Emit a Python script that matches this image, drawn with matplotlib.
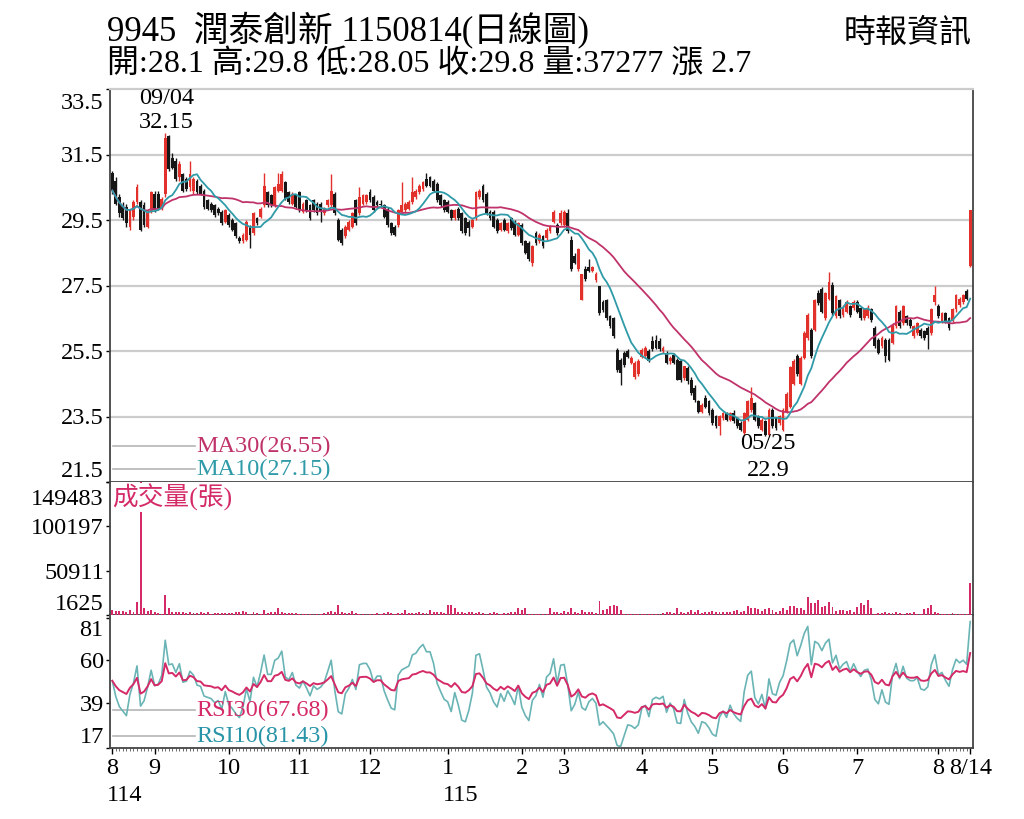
import numpy as np
import pandas as pd
import matplotlib
matplotlib.use('Agg')
import matplotlib.pyplot as plt
from matplotlib.transforms import blended_transform_factory as btf

plt.rcParams['font.family'] = ['Liberation Serif', 'Noto Sans CJK TC', 'DejaVu Sans']

# ---------------- data ----------------
title = '9945  潤泰創新 1150814(日線圖)'
source = '時報資訊'
month_labels = ['8', '9', '10', '11', '12', '1', '2', '3', '4', '5', '6', '7', '8']
year_labels = {0: '114', 5: '115'}
last_label = '8/14'
hi_label = ('09/04', 32.15)
lo_label = ('05/25', 22.9)
ma30_last = 26.55
ma10_last = 27.15
rsi30_last = 67.68
rsi10_last = 81.43

# (open, high, low, close) per trading day, month by month
aug25 = [(30.94,31.00,30.30,30.40),(30.70,30.80,29.95,30.00),(30.20,30.30,29.60,29.70),(29.95,30.05,29.50,29.55),
         (29.90,30.00,29.30,29.40),(29.30,29.85,29.20,29.80),(29.60,30.10,29.50,30.05),(30.05,30.60,30.00,30.50),
         (30.05,30.10,29.15,29.20),(29.95,30.05,29.30,29.35),(29.30,29.80,29.25,29.75),(29.75,30.40,29.70,30.35)]
sep25 = [(30.30,30.40,29.75,29.80),(30.30,30.40,29.80,29.85),(29.85,30.20,29.80,30.15),(30.28,32.15,30.20,32.00),
         (32.05,32.10,31.00,31.05),(31.40,31.55,31.05,31.10),(31.30,31.40,30.70,30.75),(30.80,31.30,30.70,31.20),
         (30.90,30.95,30.35,30.40),(30.75,30.80,30.40,30.45),(30.50,31.30,30.40,30.90),(30.40,30.80,30.30,30.75),
         (30.70,30.75,30.30,30.35),(30.55,30.60,30.25,30.30),(30.40,30.45,29.85,29.90),(30.10,30.15,29.80,29.85),
         (30.00,30.05,29.75,29.80),(29.95,30.00,29.60,29.65),(29.85,29.90,29.65,29.70),(29.75,29.80,29.35,29.40),
         (29.45,29.85,29.40,29.80)]
oct25 = [(29.65,29.70,29.30,29.35),(29.50,29.55,29.15,29.20),(29.40,29.45,28.95,29.00),(28.95,29.00,28.80,28.85),
         (28.85,29.10,28.80,29.05),(28.90,29.50,28.85,29.45),(29.30,29.35,28.65,29.05),(29.10,29.75,29.05,29.70),
         (29.55,29.60,29.35,29.40),(29.60,29.90,29.55,29.85),(29.95,30.95,29.90,30.55),(30.35,30.40,29.90,29.95),
         (30.25,30.30,29.90,29.95),(29.95,30.55,29.90,30.50),(30.40,30.95,30.35,30.60),(30.40,31.00,30.35,30.90),
         (30.65,30.70,30.10,30.15),(30.35,30.40,30.00,30.05),(30.00,30.35,29.95,30.30),(30.25,30.30,29.85,29.90)]
nov25 = [(30.35,30.40,29.75,29.80),(29.75,30.05,29.70,30.00),(30.10,30.15,29.75,29.80),(29.95,30.00,29.50,29.55),
         (30.10,30.15,29.75,29.80),(30.00,30.05,29.65,29.70),(30.00,30.05,29.45,29.75),(29.70,29.90,29.65,29.85),
         (29.95,30.15,29.90,30.10),(29.95,30.90,29.90,30.40),(30.30,30.35,29.65,29.70),(29.50,29.55,28.85,28.90),
         (29.20,29.25,28.75,28.80),(29.00,29.35,28.95,29.30),(29.20,29.50,29.15,29.45),(29.30,29.75,29.25,29.70),
         (30.10,30.15,29.35,29.40),(29.70,30.50,29.65,30.20),(30.00,30.30,29.95,30.25),(30.05,30.30,30.00,30.25)]
dec25 = [(30.35,30.45,30.05,30.10),(30.20,30.25,29.75,29.80),(30.05,30.10,29.90,29.95),(30.00,30.10,29.90,29.95),
         (29.95,30.00,29.55,29.60),(29.85,29.90,29.30,29.35),(29.40,29.45,29.05,29.10),(29.30,29.35,29.00,29.05),
         (29.35,29.85,29.30,29.80),(29.75,30.65,29.70,29.95),(29.80,30.05,29.75,30.00),(29.85,30.10,29.80,30.05),
         (30.05,30.80,30.00,30.35),(30.20,30.45,30.15,30.40),(30.35,30.60,30.30,30.55),(30.45,30.70,30.40,30.65),
         (30.75,30.95,30.50,30.55),(30.80,30.85,30.50,30.55),(30.70,30.75,30.35,30.40),(30.60,30.65,30.05,30.10),
         (30.25,30.30,29.90,29.95),(30.10,30.15,29.75,29.80)]
jan26 = [(30.05,30.10,29.70,29.75),(29.80,29.85,29.50,29.55),(29.55,29.85,29.50,29.80),(29.85,29.90,29.50,29.55),
         (29.70,29.75,29.10,29.15),(29.55,29.60,29.05,29.10),(29.45,29.50,29.00,29.25),(29.30,29.55,29.25,29.50),
         (29.55,30.40,29.50,30.35),(30.20,30.45,30.15,30.40),(30.55,30.60,30.05,30.10),(30.30,30.35,29.65,29.70),
         (29.75,29.80,29.50,29.55),(29.75,29.80,29.25,29.30),(29.50,29.55,29.10,29.15),(29.20,29.45,29.15,29.40),
         (29.50,29.55,29.15,29.20),(29.15,29.45,29.10,29.40),(29.55,29.60,29.20,29.25),(29.45,29.50,29.00,29.05),
         (29.05,29.45,29.00,29.40)]
feb26 = [(29.35,29.40,28.75,28.80),(28.85,28.90,28.45,28.50),(28.80,28.85,28.25,28.30),(28.20,28.75,28.10,28.70),
         (29.10,29.15,28.75,28.80),(28.85,29.10,28.80,29.05),(29.00,29.05,28.65,28.70),(28.95,29.25,28.90,29.20),
         (29.15,29.35,29.10,29.30),(29.45,29.80,29.40,29.75),(29.35,29.40,29.05,29.10),(29.40,29.80,29.35,29.72)]
mar26 = [(29.35,29.80,29.30,29.75),(29.72,29.85,29.10,29.15),(28.90,29.00,27.95,28.00),(28.40,28.50,28.15,28.20),
         (28.00,28.65,27.95,28.60),(27.07,27.85,27.05,27.84),(28.00,28.10,27.65,27.70),(28.05,28.30,27.90,27.95),
         (27.95,28.10,27.90,28.05),(27.68,27.90,27.60,27.85),(27.48,27.50,26.60,26.66),(27.00,27.05,26.70,26.75),
         (27.07,27.10,26.45,26.50),(26.56,26.60,26.20,26.25),(26.50,26.55,25.90,25.95),(25.54,25.60,24.85,24.93),
         (25.24,25.30,24.47,24.83),(25.44,25.50,25.00,25.08),(25.49,25.55,25.30,25.33),(25.13,25.35,25.10,25.28),
         (24.72,25.20,24.65,25.13),(24.80,25.25,24.75,25.20)]
apr26 = [(25.33,25.60,25.30,25.54),(25.35,25.65,25.30,25.60),(25.49,25.55,25.15,25.18),(25.80,25.95,25.50,25.55),
         (25.85,26.00,25.55,25.60),(25.80,25.90,25.50,25.55),(25.50,25.65,25.45,25.60),(25.44,25.50,25.10,25.13),
         (25.18,25.35,25.10,25.30),(25.38,25.45,25.10,25.13),(25.23,25.30,24.60,24.62),(25.20,25.25,24.55,24.60),
         (24.67,25.05,24.60,25.03),(24.98,25.05,24.50,24.57),(24.62,24.70,24.15,24.21),(24.37,24.45,23.95,24.00),
         (23.96,24.00,23.60,23.65),(23.65,23.90,23.60,23.86),(24.06,24.15,23.75,23.80),(23.96,24.00,23.55,23.60)]
may26 = [(23.70,23.75,23.25,23.30),(23.50,23.55,23.15,23.20),(23.20,23.55,22.95,23.50),(23.45,23.65,23.40,23.60),
         (23.60,23.65,23.35,23.40),(23.40,23.65,23.35,23.60),(23.60,23.70,23.30,23.35),(23.45,23.50,23.15,23.20),
         (23.30,23.35,23.05,23.10),(23.00,23.65,22.95,23.60),(23.40,24.00,23.35,23.96),(23.70,24.40,23.65,24.06),
         (23.90,23.95,23.35,23.40),(23.50,23.55,23.15,23.20),(23.10,23.45,23.05,23.40),(23.35,23.40,22.90,22.94),
         (22.95,23.75,22.90,23.70),(23.70,23.75,23.15,23.20),(23.45,23.50,23.10,23.15),(23.30,23.55,23.25,23.50)]
jun26 = [(23.10,23.75,23.05,23.70),(23.65,24.25,23.60,24.20),(23.80,25.05,23.75,25.00),(24.50,25.25,24.45,25.20),
         (25.35,25.40,24.75,24.80),(24.50,25.35,24.45,25.30),(25.30,26.10,25.25,26.05),(25.90,26.65,25.85,26.60),
         (26.15,26.20,25.30,25.35),(26.15,27.10,26.10,27.07),(27.28,27.35,26.90,26.97),(27.40,27.45,26.65,26.70),
         (26.50,27.30,26.45,27.28),(27.10,27.90,27.05,27.60),(27.53,27.60,26.60,26.66),(26.56,27.20,26.50,27.17),
         (27.07,27.10,26.50,26.56),(26.60,26.90,26.55,26.85),(26.70,27.05,26.65,27.00),(26.87,26.90,26.55,26.60),
         (26.80,27.05,26.75,27.00)]
jul26 = [(27.00,27.05,26.65,26.70),(26.80,26.85,26.45,26.50),(26.50,26.80,26.45,26.77),(26.56,26.90,26.50,26.82),
         (26.77,26.80,26.40,26.46),(26.20,26.25,25.60,25.65),(25.85,25.90,25.40,25.44),(25.64,25.95,25.60,25.90),
         (25.85,25.90,25.15,25.34),(25.85,25.90,25.20,25.23),(25.75,26.35,25.70,26.30),(26.25,26.90,26.20,26.87),
         (26.70,26.75,26.20,26.25),(26.36,26.90,26.30,26.87),(26.56,26.60,26.30,26.36),(26.45,26.50,26.20,26.25),
         (25.95,26.30,25.90,26.25),(26.05,26.40,26.00,26.36),(26.15,26.20,25.90,25.95),(26.10,26.15,25.85,25.90),
         (26.20,26.25,25.55,26.00),(26.05,26.80,26.00,26.77),(27.00,27.50,26.90,27.20)]
aug26 = [(26.87,26.95,26.50,26.56),(26.40,26.70,26.35,26.66),(26.66,26.70,26.35,26.40),(26.50,26.55,26.15,26.20),
         (26.46,26.80,26.40,26.77),(26.77,27.25,26.70,27.20),(26.90,27.15,26.85,27.10),(27.00,27.25,26.95,27.20),
         (27.33,27.40,27.05,27.10),(28.10,29.80,28.05,29.80)]

# volume (張) per trading day
vol_aug25 = [7200, 6100, 6000, 6000, 5300, 7200, 5300, 15700, 149483, 9000, 6000, 7200]
vol_sep25 = [4600, 3500, 2700, 23800, 9000, 4600, 5300, 4600, 4600, 3800, 4600, 3800, 3800, 4600, 3800, 4600,
             3100, 3800, 3800, 3800, 3800]
vol_oct25 = [3800, 3800, 4600, 4600, 6000, 5300, 3100, 4600, 3800, 3100, 6800, 3800, 4600, 4600, 9000, 4600,
             3800, 3800, 3800, 3800]
vol_nov25 = [3100, 3100, 3100, 2400, 2400, 2400, 2400, 3800, 5300, 6000, 4600, 12700, 5300, 3800, 3800, 6000,
             3800, 3100, 3100, 3100]
vol_dec25 = [3100, 3100, 3800, 3100, 3800, 4600, 3800, 3100, 3800, 3800, 6800, 3800, 3800, 3800, 5300, 3800,
             3800, 6800, 4600, 5300, 4600, 3800]
vol_jan26 = [12700, 12700, 9000, 4600, 4600, 3800, 5300, 4600, 3800, 4600, 3800, 3100, 3800, 4600, 3800, 3100,
             3800, 3800, 4600, 5300, 9000]
vol_feb26 = [7200, 9800, 3100, 3100, 3100, 3100, 3100, 3100, 9000, 4600, 5300, 3800]
vol_mar26 = [6000, 5300, 9000, 4600, 3800, 6800, 5300, 4600, 5300, 3800, 17200, 7200, 8300, 12000, 12700, 12000,
             7200, 2400, 2400, 2400, 2400, 2400]
vol_apr26 = [2400, 2400, 2400, 2400, 2400, 2400, 3800, 4600, 4600, 3800, 9000, 4600, 3800, 5300, 7600, 4600,
             6800, 3800, 4600, 4600]
vol_may26 = [6000, 4600, 5300, 5300, 4600, 5300, 6000, 7600, 5300, 6000, 12000, 9800, 9000, 8300, 6000, 8300,
             9800, 7600, 5300, 6000]
vol_jun26 = [9000, 7600, 12000, 12000, 9800, 9000, 7200, 22000, 14600, 14600, 18300, 10900, 12000, 16400, 10900,
             6000, 6800, 7600, 6000, 6800, 5300]
vol_jul26 = [10900, 14600, 12700, 18300, 9000, 3100, 3800, 3800, 4600, 3800, 3800, 4600, 3800, 3100, 3800, 3800,
             4600, 3100, 3100, 8300, 9000, 12700, 4600]
vol_aug26 = [3800, 3100, 3100, 3100, 3800, 3100, 3100, 2700, 3100, 37277]

months = [aug25, sep25, oct25, nov25, dec25, jan26, feb26, mar26, apr26, may26, jun26, jul26, aug26]
vols = [vol_aug25, vol_sep25, vol_oct25, vol_nov25, vol_dec25, vol_jan26, vol_feb26, vol_mar26, vol_apr26,
        vol_may26, vol_jun26, vol_jul26, vol_aug26]

ohlc = np.array([row for m in months for row in m])
o, h, l, c = ohlc.T
vol = np.array([v for m in vols for v in m], dtype=float)
N = len(c)
x = np.arange(N)
month_start = np.cumsum([0] + [len(m) for m in months[:-1]])

close_s = pd.Series(c)
ma10 = close_s.rolling(10, min_periods=1).mean()
ma30 = close_s.rolling(30, min_periods=1).mean()

RSI_SEED = 0.12  # assumed average daily move before the window (Wilder smoothing start)


def rsi(cl, n):
    d = np.diff(cl)
    up = pd.Series(np.concatenate([[RSI_SEED], np.clip(d, 0, None)])).ewm(alpha=1.0 / n, adjust=False).mean()
    dn = pd.Series(np.concatenate([[RSI_SEED], np.clip(-d, 0, None)])).ewm(alpha=1.0 / n, adjust=False).mean()
    return (100 * up / (up + dn)).values


rsi10 = rsi(c, 10)
rsi30 = rsi(c, 30)

# ---------------- style ----------------
RED = '#e2312b'
BLK = '#161616'
PINK = '#d42a68'
TEAL = '#2894a8'
MA30C = '#c0336a'
MA10C = '#2f9aa8'
RSI10C = '#6ab4b6'
GRID = '#cccccc'
SPINE = '#444444'
FS = 17.5

fig = plt.figure(figsize=(10.24, 8.19), dpi=100)
L = 110 / 1024
W = (973 - 110) / 1024
ax1 = fig.add_axes([L, (819 - 482) / 819, W, (482 - 89) / 819])
ax2 = fig.add_axes([L, (819 - 615) / 819, W, 133 / 819], sharex=ax1)
ax3 = fig.add_axes([L, (819 - 748) / 819, W, 133 / 819], sharex=ax1)

for ax in (ax1, ax2, ax3):
    for s in ax.spines.values():
        s.set_color(SPINE)
        s.set_linewidth(1.3)
    ax.tick_params(axis='y', direction='out', length=3, width=1, pad=1.5, labelsize=FS, colors='black')
ax1.spines['top'].set_color(GRID)
ax1.spines['top'].set_linewidth(1.6)
ax2.spines['top'].set_visible(False)
ax3.spines['top'].set_visible(False)

ax1.set_xlim(-0.65, N - 0.2)


def set_yaxis(ax, ticks, fmt, top_frac):
    ax.set_yticks(ticks)
    labs = [fmt % v for v in ticks]
    ax.set_yticklabels(labs[:-1] + [''])
    ax.get_yticklabels()[0].set_va('bottom')
    ax.text(-0.0075, top_frac, labs[-1], transform=ax.transAxes, ha='right', va='center', fontsize=FS)


# ---- price panel ----
cols = np.where(c >= o, RED, BLK)
ax1.vlines(x, l, h, colors=cols, lw=1.0, zorder=3)
ax1.bar(x, np.maximum(np.abs(c - o), 0.04), bottom=np.minimum(o, c), width=0.8, color=cols, lw=0, zorder=3)
ax1.plot(x, ma30, color=MA30C, lw=1.3, zorder=4)
ax1.plot(x, ma10, color=MA10C, lw=1.3, zorder=4)
pt = [21.5, 23.5, 25.5, 27.5, 29.5, 31.5, 33.5]
ax1.set_ylim(21.5, 33.5)
set_yaxis(ax1, pt, '%.1f', 0.964)
for v in pt[1:-1]:
    ax1.axhline(v, color=GRID, lw=1.6, zorder=0)
ax1.tick_params(axis='x', bottom=False, labelbottom=False)

for yy, txt, col in [(0.0916, 'MA30(%.2f)' % ma30_last, MA30C), (0.033, 'MA10(%.2f)' % ma10_last, MA10C)]:
    ax1.plot([0.003, 0.0985], [yy, yy], transform=ax1.transAxes, color='#b5b5b5', lw=1.2)
    ax1.text(0.0995, yy, txt, transform=ax1.transAxes, color=col, fontsize=FS, va='center', ha='left')

ih = int(np.argmax(h))
il = int(np.argmin(l))
ax1.annotate('%.2f' % hi_label[1], (ih, h[ih]), xytext=(1, 0), textcoords='offset points',
             ha='center', va='bottom', fontsize=FS)
ax1.annotate(hi_label[0], (ih, h[ih]), xytext=(1, 17.5), textcoords='offset points',
             ha='center', va='bottom', fontsize=FS)
ax1.annotate(lo_label[0], (il, l[il]), xytext=(2, 2), textcoords='offset points',
             ha='center', va='top', fontsize=FS)
ax1.annotate('%g' % lo_label[1], (il, l[il]), xytext=(2, -17.5), textcoords='offset points',
             ha='center', va='top', fontsize=FS)

# ---- volume panel ----
vt = [1625, 50911, 100197, 149483]
ax2.bar(x, vol, width=0.55, color=PINK, lw=0, zorder=3)
ax2.set_ylim(vt[0], vt[-1])
set_yaxis(ax2, vt, '%d', 0.872)
ax2.tick_params(axis='x', bottom=False, labelbottom=False)
ax2.text(0.003, 0.985, '成交量(張)', transform=ax2.transAxes, color=PINK, fontsize=FS + 1, va='top', ha='left',
         zorder=6, bbox=dict(facecolor='white', edgecolor='none', pad=0.5))

# ---- RSI panel ----
ax3.plot(x, rsi30, color=PINK, lw=1.4, zorder=4)
ax3.plot(x, rsi10, color=RSI10C, lw=1.2, zorder=3)
rt = [17, 39, 60, 81]
ax3.set_ylim(17.0, 82.3)
set_yaxis(ax3, rt, '%d', 0.887)
for yy, txt, col in [(0.286, 'RSI30(%.2f)' % rsi30_last, PINK), (0.09, 'RSI10(%.2f)' % rsi10_last, TEAL)]:
    ax3.plot([0.003, 0.0985], [yy, yy], transform=ax3.transAxes, color='#b5b5b5', lw=1.2)
    ax3.text(0.1, yy, txt, transform=ax3.transAxes, color=col, fontsize=FS, va='center', ha='left')

xt = list(month_start) + [N - 1]
ax3.set_xticks(xt)
ax3.set_xticklabels(month_labels + [last_label])
ax3.set_xticks(x, minor=True)
ax3.tick_params(axis='x', which='major', direction='out', length=4, width=1, pad=3, labelsize=FS, colors='black')
ax3.tick_params(axis='x', which='minor', direction='out', length=2, width=0.6, colors='#555555')
tb = btf(ax3.transData, ax3.transAxes)
for k, lab in year_labels.items():
    ax3.text(month_start[k] - 1.4, -0.36, lab, transform=tb, ha='left', va='center', fontsize=FS)

# ---- header ----
fig.text(107 / 1024, 1 - 30 / 819, title, fontsize=25, ha='left', va='center')
fig.text(972 / 1024, 1 - 34 / 819, source, fontsize=23, ha='right', va='center')
chg = round(c[-1] - c[-2], 2)
info = '開:%g 高:%g 低:%g 收:%g 量:%d 漲 %g' % (o[-1], h[-1], l[-1], c[-1], vol[-1], chg)
fig.text(107 / 1024, 1 - 65 / 819, info, fontsize=23, ha='left', va='center')

fig.savefig('out.png', dpi=100)
